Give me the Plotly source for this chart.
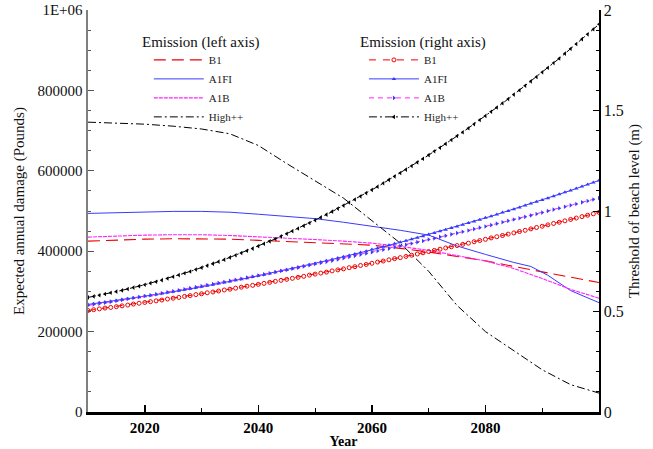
import plotly.graph_objects as go

# ---------------- data ----------------
# Left axis: expected annual damage (Pounds)
years_left = [2010, 2015, 2020, 2025, 2030, 2035, 2040, 2045, 2050, 2055,
              2060, 2065, 2070, 2075, 2080, 2085, 2090, 2095, 2100]
dmg_b1 = [425000, 428000, 430000, 431000, 431000, 430000, 427000, 424000, 421000, 418000,
          415000, 407000, 398000, 387000, 376000, 362000, 349000, 335000, 322000]
dmg_a1b = [435000, 438000, 440000, 441000, 441000, 439000, 436000, 433000, 429000, 425000,
           420000, 412000, 402000, 389000, 376000, 357000, 332000, 305000, 283000]
dmg_high = [721000, 719000, 716000, 711000, 704000, 692000, 663000, 618000, 574000, 532000,
            476000, 420000, 350000, 265000, 200000, 152000, 105000, 68000, 47000]
years_a1fi = [2010, 2015, 2020, 2025, 2030, 2035, 2040, 2045, 2050, 2055, 2060, 2065,
              2070, 2075, 2080, 2085, 2088, 2091, 2095, 2100]
dmg_a1fi = [494000, 496000, 498000, 499000, 499000, 497000, 492000, 487000, 481000, 472000,
            462000, 452000, 440000, 413000, 392000, 372000, 362000, 340000, 302000, 272000]

# Right axis: threshold of beach level (m), yearly
years_right = list(range(2010, 2101))
thr_b1 = [0.505, 0.509, 0.513, 0.517, 0.520, 0.524, 0.528, 0.532, 0.537, 0.541,
          0.545, 0.549, 0.553, 0.557, 0.562, 0.566, 0.570, 0.575, 0.579, 0.584,
          0.588, 0.593, 0.597, 0.602, 0.607, 0.611, 0.616, 0.621, 0.626, 0.630,
          0.635, 0.640, 0.645, 0.650, 0.655, 0.660, 0.665, 0.670, 0.675, 0.681,
          0.686, 0.691, 0.696, 0.702, 0.707, 0.712, 0.718, 0.723, 0.729, 0.734,
          0.740, 0.746, 0.751, 0.757, 0.763, 0.768, 0.774, 0.780, 0.786, 0.792,
          0.798, 0.804, 0.810, 0.816, 0.822, 0.828, 0.834, 0.840, 0.847, 0.853,
          0.859, 0.866, 0.872, 0.878, 0.885, 0.891, 0.898, 0.904, 0.911, 0.918,
          0.924, 0.931, 0.938, 0.944, 0.951, 0.958, 0.965, 0.972, 0.979, 0.986,
          0.993]
thr_a1b = [0.530, 0.535, 0.539, 0.544, 0.548, 0.553, 0.558, 0.562, 0.567, 0.572,
           0.577, 0.581, 0.586, 0.591, 0.596, 0.601, 0.606, 0.611, 0.616, 0.621,
           0.626, 0.632, 0.637, 0.642, 0.647, 0.653, 0.658, 0.663, 0.669, 0.674,
           0.679, 0.685, 0.690, 0.696, 0.702, 0.707, 0.713, 0.718, 0.724, 0.730,
           0.736, 0.741, 0.747, 0.753, 0.759, 0.765, 0.771, 0.777, 0.783, 0.789,
           0.795, 0.801, 0.807, 0.813, 0.820, 0.826, 0.832, 0.838, 0.845, 0.851,
           0.858, 0.864, 0.871, 0.877, 0.884, 0.890, 0.897, 0.903, 0.910, 0.917,
           0.923, 0.930, 0.937, 0.944, 0.951, 0.958, 0.964, 0.971, 0.978, 0.985,
           0.992, 1.000, 1.007, 1.014, 1.021, 1.028, 1.035, 1.043, 1.050, 1.057,
           1.065]
thr_a1fi = [0.535, 0.539, 0.543, 0.546, 0.550, 0.554, 0.558, 0.563, 0.567, 0.571,
            0.576, 0.580, 0.584, 0.589, 0.594, 0.598, 0.603, 0.608, 0.613, 0.618,
            0.623, 0.628, 0.633, 0.639, 0.644, 0.649, 0.655, 0.660, 0.666, 0.672,
            0.678, 0.683, 0.689, 0.695, 0.701, 0.707, 0.714, 0.720, 0.726, 0.733,
            0.739, 0.746, 0.752, 0.759, 0.766, 0.772, 0.779, 0.786, 0.793, 0.800,
            0.808, 0.815, 0.822, 0.829, 0.837, 0.844, 0.852, 0.860, 0.867, 0.875,
            0.883, 0.891, 0.899, 0.907, 0.915, 0.923, 0.932, 0.940, 0.948, 0.957,
            0.966, 0.974, 0.983, 0.992, 1.000, 1.009, 1.018, 1.027, 1.037, 1.046,
            1.055, 1.064, 1.074, 1.083, 1.093, 1.102, 1.112, 1.122, 1.132, 1.142,
            1.152]
thr_high = [0.570, 0.575, 0.581, 0.587, 0.593, 0.599, 0.605, 0.612, 0.619, 0.626,
            0.633, 0.641, 0.648, 0.656, 0.664, 0.673, 0.681, 0.690, 0.699, 0.709,
            0.718, 0.728, 0.738, 0.748, 0.758, 0.769, 0.780, 0.791, 0.802, 0.813,
            0.825, 0.837, 0.849, 0.861, 0.874, 0.887, 0.900, 0.913, 0.926, 0.940,
            0.954, 0.968, 0.982, 0.997, 1.012, 1.027, 1.042, 1.057, 1.073, 1.089,
            1.105, 1.121, 1.138, 1.155, 1.172, 1.189, 1.206, 1.224, 1.242, 1.260,
            1.278, 1.297, 1.315, 1.334, 1.353, 1.373, 1.392, 1.412, 1.432, 1.453,
            1.473, 1.494, 1.515, 1.536, 1.557, 1.579, 1.601, 1.623, 1.645, 1.667,
            1.690, 1.713, 1.736, 1.759, 1.783, 1.807, 1.831, 1.855, 1.879, 1.904,
            1.929]

x_ticks = [2020, 2040, 2060, 2080]
left_ticks = [0, 200000, 400000, 600000, 800000, 1000000]
left_ticktext = ["0", "200000", "400000", "600000", "800000", "1E+06"]
right_ticks = [0, 0.5, 1, 1.5, 2]
right_ticktext = ["0", "0.5", "1", "1.5", "2"]
legend_titles = ["Emission (left axis)", "Emission (right axis)"]

# ---------------- styles ----------------
RED = "#ee0000"
BLUE = "#3a3aff"
MAG = "#ff22ff"
BLK = "#000000"
SERIF = "Liberation Serif, Times New Roman, serif"

fig = go.Figure()

# left-axis traces
fig.add_trace(go.Scatter(x=years_left, y=dmg_b1, name="B1", mode="lines",
                         line=dict(color=RED, width=1.1, dash="12px,6px"), legend="legend"))
fig.add_trace(go.Scatter(x=years_a1fi, y=dmg_a1fi, name="A1FI", mode="lines",
                         line=dict(color=BLUE, width=1), legend="legend"))
fig.add_trace(go.Scatter(x=years_left, y=dmg_a1b, name="A1B", mode="lines",
                         line=dict(color=MAG, width=1.1, dash="4px,1px"), legend="legend"))
fig.add_trace(go.Scatter(x=years_left, y=dmg_high, name="High++", mode="lines",
                         line=dict(color=BLK, width=1, dash="8px,3px,2px,3px"), legend="legend"))

# right-axis traces
fig.add_trace(go.Scatter(x=years_right, y=thr_b1, name="B1", mode="lines+markers", yaxis="y2",
                         line=dict(color=RED, width=1, dash="7px,7px"),
                         marker=dict(symbol="circle-open", size=4, color=RED, line=dict(width=1)),
                         legend="legend2"))
fig.add_trace(go.Scatter(x=years_right, y=thr_a1fi, name="A1FI", mode="lines+markers", yaxis="y2",
                         line=dict(color=BLUE, width=1),
                         marker=dict(symbol="triangle-up", size=4, color=BLUE),
                         legend="legend2"))
fig.add_trace(go.Scatter(x=years_right, y=thr_a1b, name="A1B", mode="lines+markers", yaxis="y2",
                         line=dict(color=MAG, width=1, dash="5px,4px"),
                         marker=dict(symbol="triangle-right", size=4, color=BLUE),
                         legend="legend2"))
fig.add_trace(go.Scatter(x=years_right, y=thr_high, name="High++", mode="lines+markers", yaxis="y2",
                         line=dict(color=BLK, width=1, dash="8px,3px,2px,3px"),
                         marker=dict(symbol="triangle-left", size=4, color=BLK),
                         legend="legend2"))

legend_common = dict(
    font=dict(family=SERIF, size=11, color="#222"),
    bgcolor="rgba(0,0,0,0)",
    itemwidth=50,
    tracegroupgap=0,
    xanchor="left", yanchor="top",
)

title_font = dict(family=SERIF, size=15, color="#111")

fig.update_layout(
    width=653, height=449,
    margin=dict(l=88, r=54, t=10, b=37, autoexpand=False),
    paper_bgcolor="white", plot_bgcolor="white",
    font=dict(family=SERIF, color="#111"),
    hovermode=False,
    showlegend=True,
    legend=dict(x=0.119, y=0.912, **legend_common),
    legend2=dict(x=0.540, y=0.912, **legend_common),
    annotations=[
        dict(text=legend_titles[0], xref="paper", yref="paper", x=0.102, y=0.920,
             xanchor="left", yanchor="middle", showarrow=False, font=title_font),
        dict(text=legend_titles[1], xref="paper", yref="paper", x=0.528, y=0.920,
             xanchor="left", yanchor="middle", showarrow=False, font=title_font),
    ],
    xaxis=dict(
        range=[2010, 2100], tickvals=x_ticks, ticks="inside", ticklen=7, tickwidth=1.5,
        tickcolor=BLK, showline=True, linecolor=BLK, linewidth=3, showgrid=False, zeroline=False,
        automargin=False,
        tickfont=dict(family=SERIF, size=15, color=BLK, weight="bold"),
        minor=dict(dtick=10, tick0=2010, ticks="inside", ticklen=4, tickcolor=BLK, tickwidth=1),
        title=dict(text="<b>Year</b>", font=dict(family=SERIF, size=14, color=BLK), standoff=0),
    ),
    yaxis=dict(
        range=[0, 1000000], tickvals=left_ticks, ticktext=left_ticktext, ticks="inside", ticklen=6,
        tickcolor="#555", showline=True, linecolor="#7f7f7f", linewidth=2.5, showgrid=False,
        zeroline=False, automargin=False, ticklabeloverflow="allow",
        tickfont=dict(family=SERIF, size=15, color="#111"),
        minor=dict(dtick=50000, ticks="inside", ticklen=3, tickcolor="#555"),
        title=dict(text="Expected annual damage (Pounds)", font=title_font, standoff=10),
    ),
    yaxis2=dict(
        range=[0, 2], tickvals=right_ticks, ticktext=right_ticktext, overlaying="y", side="right",
        ticks="inside", ticklen=6, tickcolor=BLK, showline=True, linecolor=BLK, linewidth=1.5,
        showgrid=False, zeroline=False, automargin=False, ticklabeloverflow="allow",
        tickfont=dict(family=SERIF, size=16, color="#111"),
        minor=dict(dtick=0.1, ticks="inside", ticklen=3, tickcolor=BLK),
        title=dict(text="Threshold of beach level (m)", font=title_font, standoff=6),
    ),
)

# remove the browser's default 8px page margin so the figure sits at the window origin
fig.write_html("out.html", config={"displayModeBar": False, "staticPlot": True},
               post_script="document.body.style.margin='0';")
